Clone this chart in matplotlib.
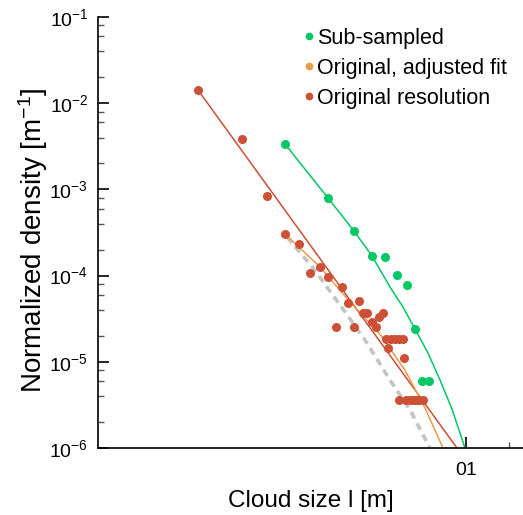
import matplotlib.pyplot as plt
from matplotlib.ticker import LogLocator, FixedLocator, NullFormatter

plt.rcParams['font.family'] = ['Liberation Sans', 'DejaVu Sans']
plt.rcParams['mathtext.default'] = 'regular'

# original resolution (red dots)
orig_x = [1.337e-3, 2.72e-3, 4.06e-3, 5.42e-3, 6.79e-3, 9.53e-3, 8.11e-3, 1.084e-2,
          1.358e-2, 1.496e-2, 1.786e-2, 1.905e-2, 2.032e-2, 1.233e-2, 1.648e-2,
          2.202e-2, 2.35e-2, 2.466e-2, 2.63e-2, 2.76e-2, 2.99e-2, 3.19e-2, 3.40e-2,
          3.62e-2, 2.85e-2, 3.68e-2, 3.40e-2, 3.80e-2, 4.06e-2, 4.26e-2, 4.47e-2,
          4.69e-2, 5.00e-2]
orig_y = [1.42e-2, 3.84e-3, 8.38e-4, 3.04e-4, 2.33e-4, 1.26e-4, 1.07e-4, 9.64e-5,
          7.38e-5, 4.81e-5, 5.07e-5, 3.68e-5, 3.68e-5, 2.53e-5, 2.53e-5,
          2.90e-5, 2.53e-5, 3.31e-5, 3.68e-5, 1.84e-5, 1.84e-5, 1.84e-5, 1.84e-5,
          1.84e-5, 1.45e-5, 1.11e-5, 3.6e-6, 3.6e-6, 3.6e-6, 3.6e-6, 3.6e-6,
          3.6e-6, 3.6e-6]

# sub-sampled (green dots)
sub_x = [5.42e-3, 1.084e-2, 1.648e-2, 2.202e-2, 2.72e-2, 3.29e-2, 3.87e-2, 4.40e-2,
         4.92e-2, 5.51e-2]
sub_y = [3.36e-3, 7.94e-4, 3.29e-4, 1.69e-4, 1.64e-4, 1.02e-4, 7.78e-5, 2.40e-5,
         5.99e-6, 5.99e-6]

# fit curves
orig_fit_x = [1.337e-3, 8.65e-2]
orig_fit_y = [1.42e-2, 1e-6]
adj_fit_x = [5.42e-3, 9.53e-3, 1.545e-2, 2.50e-2, 3.74e-2, 5.17e-2, 6.90e-2]
adj_fit_y = [3.04e-4, 1.26e-4, 4.94e-5, 2.10e-5, 8.03e-6, 2.91e-6, 1e-6]
sub_fit_x = [5.42e-3, 1.084e-2, 1.648e-2, 2.202e-2, 2.94e-2, 3.625e-2, 4.40e-2,
             5.42e-2, 6.58e-2, 7.98e-2, 9.84e-2]
sub_fit_y = [3.36e-3, 7.94e-4, 3.29e-4, 1.69e-4, 7.38e-5, 4.32e-5, 2.40e-5,
             1.265e-5, 6.15e-6, 2.83e-6, 1e-6]
ref_x = [5.60e-3, 8.51e-3, 1.315e-2, 1.967e-2, 2.94e-2, 4.06e-2, 5.60e-2]
ref_y = [2.80e-4, 1.23e-4, 4.56e-5, 1.79e-5, 6.15e-6, 2.76e-6, 1e-6]

green = '#00c864'
orange = '#f09a48'
red = '#cc4f36'

fig = plt.figure(figsize=(5.23, 5.15), dpi=100)
ax = fig.add_axes([98/523, 1-448/515, 425/523, 431/515])

ax.plot(ref_x, ref_y, color='#c4c4c4', lw=2.6, ls=(0, (2.0, 1.5)), zorder=1)
ax.plot(orig_fit_x, orig_fit_y, color=red, lw=1.1, zorder=2)
ax.plot(adj_fit_x, adj_fit_y, color=orange, lw=1.1, zorder=2)
ax.plot(sub_fit_x, sub_fit_y, color=green, lw=1.1, zorder=2)

ax.plot(sub_x, sub_y, 'o', color=green, ms=6.5, mec='none', label='Sub-sampled', zorder=3)
ax.plot([], [], 'o', color=orange, ms=6.5, mec='none', label='Original, adjusted fit')
ax.plot(orig_x, orig_y, 'o', color=red, ms=6.5, mec='none', label='Original resolution', zorder=3)

ax.set_xscale('log')
ax.set_yscale('log')
ax.set_xlim(2.67e-4, 0.2504)
ax.set_ylim(1e-6, 1e-1)

ax.spines['top'].set_visible(False)
ax.spines['right'].set_visible(False)
for s in ['left', 'bottom']:
    ax.spines[s].set_linewidth(1.2)

ax.yaxis.set_minor_locator(LogLocator(base=10, subs=[2, 4, 6, 8], numticks=10))
ax.yaxis.set_minor_formatter(NullFormatter())
ax.set_yticks([1e-6, 1e-5, 1e-4, 1e-3, 1e-2, 1e-1])
ax.set_yticklabels(['$10^{-%d}$' % k for k in [6, 5, 4, 3, 2, 1]])

ax.xaxis.set_major_locator(FixedLocator([0.1]))
ax.xaxis.set_minor_locator(FixedLocator([0.2]))
ax.xaxis.set_minor_formatter(NullFormatter())
ax.set_xticklabels(['01'])

ax.tick_params(which='major', direction='in', length=8, width=1.2, labelsize=14, pad=7)
ax.tick_params(which='minor', direction='in', length=4, width=1.0, color='#555555')
ax.tick_params(axis='x', which='major', pad=10)

ax.set_ylabel('Normalized density [m$^{-1}$]', fontsize=20)
ax.yaxis.set_label_coords(-0.112, 0.483)
ax.set_xlabel('Cloud size l [m]', fontsize=17.5, labelpad=8)

ax.legend(loc='upper right', bbox_to_anchor=(0.962, 0.975), frameon=False, fontsize=15.5,
          handlelength=0.3, handletextpad=0.2, labelspacing=0.42, borderaxespad=0,
          borderpad=0, markerscale=0.85)

fig.savefig('out.png', dpi=100)
